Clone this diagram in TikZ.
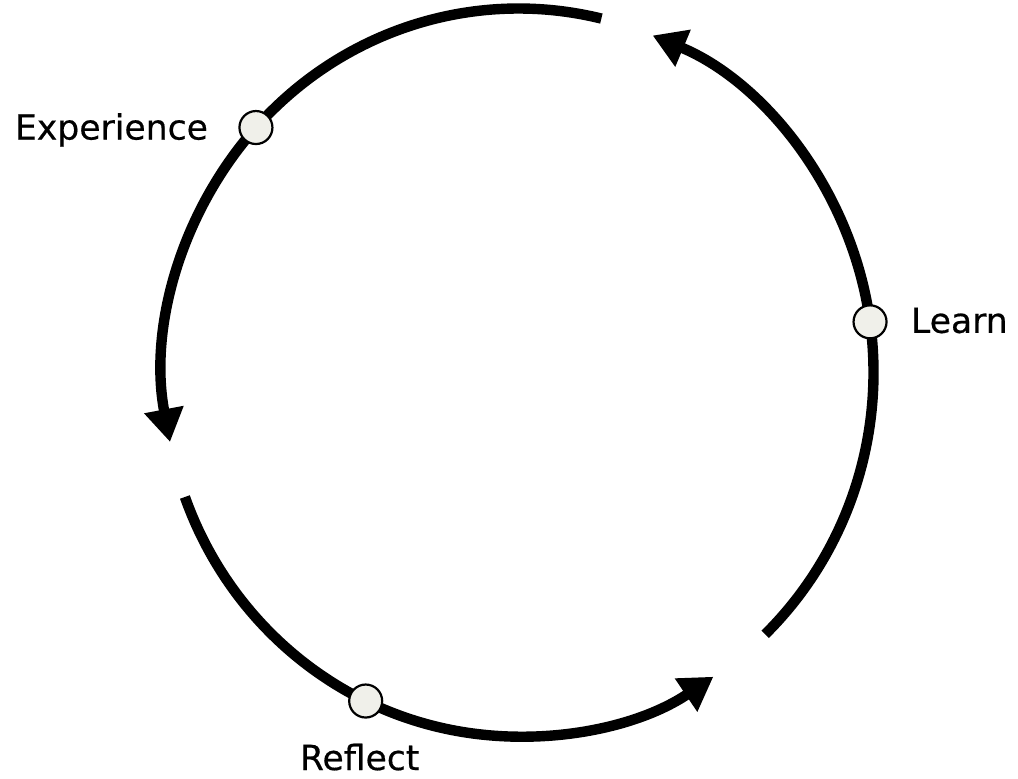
\documentclass[tikz,border=0pt]{standalone}
\usepackage{fontspec}
\setmainfont{DejaVu Sans}
\newfontfamily\lblfont[FakeBold=0.5]{DejaVu Sans}
\usetikzlibrary{arrows.meta,calc}
\definecolor{dotfill}{HTML}{F0F0EA}
\tikzset{
  cyc/.style={line width=5.2pt, -{Triangle[length=16.5pt,width=19pt]}},
  dot/.style={circle, draw=black, line width=1.1pt, fill=dotfill, minimum size=16.5pt, inner sep=0pt},
  lbl/.style={font=\lblfont\fontsize{17.3}{20}\selectfont, inner sep=0pt}
}
\begin{document}
\begin{tikzpicture}[x=0.5pt,y=0.5pt]
\useasboundingbox (0,0) rectangle (1018,778);
\coordinate (O) at (518.5,405.5);
\coordinate (s1) at ($(O)+(76.5:355 and 364)$);
\coordinate (s2) at ($(O)+(200:355 and 364)$);
\coordinate (s3) at ($(O)+(-46:355 and 364)$);
\draw[cyc] (s1) arc[start angle=76.5, end angle=191, x radius=355, y radius=364];
\draw[cyc] (s2) arc[start angle=200, end angle=303.3, x radius=355, y radius=364];
\draw[cyc] (s3) arc[start angle=-46, end angle=67.8, x radius=355, y radius=364];
\node[dot] (exp) at ($(O)+(137.7:355 and 364)$) {};
\node[dot] (lrn) at ($(O)+(8:355 and 364)$) {};
\node[dot] (ref) at ($(O)+(244.5:355 and 364)$) {};
\node[lbl, anchor=base east] (texp) at ($(exp.west)+(-30,-12)$) {Experience};
\node[lbl, anchor=base west] (tlrn) at ($(lrn.east)+(23,-11)$) {Learn};
\node[lbl, anchor=base] (tref) at ($(ref)+(-6,-69)$) {Reflect};
\end{tikzpicture}
\end{document}
